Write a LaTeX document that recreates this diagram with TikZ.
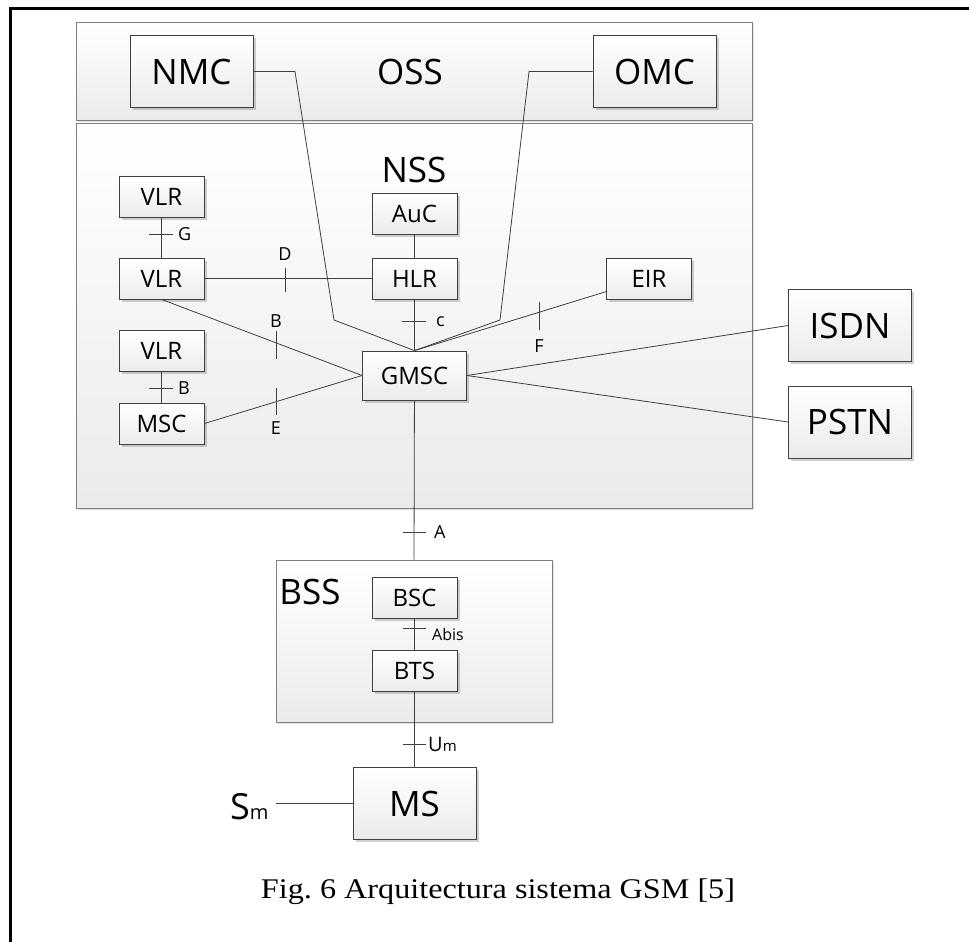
\documentclass[tikz,border=0pt]{standalone}
\usepackage{fontspec}
\setmainfont{Liberation Serif}
\newfontfamily\diafont{Open Sans}
\usepackage{tikz}
\usetikzlibrary{shadows,calc}

\begin{document}
\begin{tikzpicture}[
    x=1pt, y=-1pt,
    % small network elements (VLR, HLR, ...)
    unit/.style={draw=black!75, line width=0.8pt, top color=white, bottom color=black!8,
      drop shadow={shadow xshift=2.5pt, shadow yshift=-2.5pt, fill=black, opacity=0.18},
      minimum width=85pt, minimum height=41pt, inner sep=0pt,
      font=\diafont\fontsize{24}{28}\selectfont},
    % large boxes (NMC, ISDN, MS, ...)
    bigunit/.style={unit, minimum width=123pt, minimum height=72pt,
      font=\diafont\fontsize{35}{40}\selectfont},
    % subsystem frames (OSS, NSS, BSS)
    subsys/.style={draw=black!50, line width=1pt, top color=white, bottom color=black!8,
      drop shadow={shadow xshift=2pt, shadow yshift=-2pt, fill=black, opacity=0.12},
      inner sep=0pt},
    title/.style={font=\diafont\fontsize{35}{40}\selectfont, inner sep=0pt},
    link/.style={draw=black!75, line width=0.8pt},
    tickmark/.style={draw=black!75, line width=0.8pt},
    iface/.style={font=\diafont\fontsize{18}{22}\selectfont, inner sep=0pt},
  ]
  \useasboundingbox (0,0) rectangle (969,942);
  \clip (0,0) rectangle (969,942);
  \fill[white] (0,0) rectangle (969,942);
  % page frame, runs off to the right and bottom
  \draw[line width=3pt] (10,960) -- (10,9) -- (990,9);

  % subsystems
  \node[subsys, minimum width=676pt, minimum height=97pt] (oss) at (414,71.5) {};
  \node[subsys, minimum width=676pt, minimum height=385pt] (nss) at (414,315.5) {};
  \node[subsys, minimum width=276pt, minimum height=162pt] (bss) at (414,641) {};
  \node[title] (osslabel) at (410,71.5) {OSS};
  \node[title] (nsslabel) at (414,169.5) {NSS};
  \node[title] (bsslabel) at (310,592) {BSS};

  % OSS
  \node[bigunit] (nmc) at (191.5,71.5) {NMC};
  \node[bigunit] (omc) at (654.5,71.5) {OMC};

  % NSS
  \node[unit] (vlrA) at (161.5,197) {VLR};
  \node[unit] (vlrB) at (161.5,278.5) {VLR};
  \node[unit] (vlrC) at (161.5,351) {VLR};
  \node[unit] (msc) at (161.5,423.5) {MSC};
  \node[unit] (auc) at (414.5,213.5) {AuC};
  \node[unit] (hlr) at (414.5,278.5) {HLR};
  \node[unit] (eir) at (649,278.5) {EIR};
  \node[unit, minimum width=104pt, minimum height=49pt] (gmsc) at (414.5,375.5) {GMSC};
  \node[bigunit] (isdn) at (850,325.5) {ISDN};
  \node[bigunit] (pstn) at (850,422) {PSTN};

  % BSS and MS
  \node[unit] (bsc) at (414.5,597.5) {BSC};
  \node[unit] (bts) at (414.5,670.5) {BTS};
  \node[bigunit] (ms) at (414.5,803.5) {MS};

  % bends of the OSS links
  \coordinate (nmcA) at (295,71.5);
  \coordinate (nmcB) at (334,320);
  \coordinate (omcA) at (529,71.5);
  \coordinate (omcB) at (500,320);
  \coordinate (smend) at (276,803.5);

  % connectors
  \draw[link] (vlrA) -- (vlrB);
  \draw[link] (vlrB) -- (hlr);
  \draw[link] (vlrB.south) -- (gmsc.west);
  \draw[link] (vlrC) -- (msc);
  \draw[link] (msc.east) -- (gmsc.west);
  \draw[link] (auc) -- (hlr);
  \draw[link] (hlr) -- (gmsc);
  \draw[link] (nmc.east) -- (nmcA) -- (nmcB) -- (gmsc.north);
  \draw[link] (omc.west) -- (omcA) -- (omcB) -- (gmsc.north);
  \draw[link] (eir.197) -- (gmsc.north);
  \draw[link] (gmsc.east) -- (isdn.west);
  \draw[link] (gmsc.east) -- (pstn.west);
  \draw[link] (gmsc) -- (bss.north);
  \draw[link] (bsc) -- (bts);
  \draw[link] (bts) -- (ms);
  \draw[link] (smend) -- (ms.west);

  % interface marks
  \draw[tickmark] (149,234) -- (173,234);
  \draw[tickmark] (285,268) -- (285,292);
  \draw[tickmark] (276,331) -- (276,359);
  \draw[tickmark] (149,388) -- (173,388);
  \draw[tickmark] (276,388) -- (276,415);
  \draw[tickmark] (402,321) -- (426,321);
  \draw[tickmark] (539,302) -- (539,330);
  \draw[tickmark] (403,532) -- (426,532);
  \draw[tickmark] (403,628) -- (426,628);
  \draw[tickmark] (403,744) -- (426,744);

  % interface names
  \node[iface, anchor=west] (ifG) at (178,234) {G};
  \node[iface] (ifD) at (285,254) {D};
  \node[iface] (ifBa) at (276,321) {B};
  \node[iface, anchor=west] (ifBb) at (178,388) {B};
  \node[iface] (ifE) at (276,428) {E};
  \node[iface, anchor=west] (ifC) at (436,322) {c};
  \node[iface] (ifF) at (539,346) {F};
  \node[iface, anchor=west] (ifA) at (434,532) {A};
  \node[iface, anchor=west, font=\diafont\fontsize{16}{20}\selectfont] (ifAbis) at (432,634) {Abis};
  \node[iface, anchor=west] (ifUm) at (428,744)
    {\fontsize{20}{24}\selectfont U\fontsize{15}{18}\selectfont m};
  \node[anchor=base west, inner sep=0pt, font=\diafont] (sm) at (230,819)
    {\fontsize{36}{40}\selectfont S\fontsize{20}{24}\selectfont m};

  % caption
  \node[anchor=base, inner sep=0pt, font=\fontsize{28.5}{32}\selectfont] (caption) at (498,898)
    {\scalebox{1.13}[1]{Fig.\ 6 Arquitectura sistema GSM [5]}};
\end{tikzpicture}
\end{document}
